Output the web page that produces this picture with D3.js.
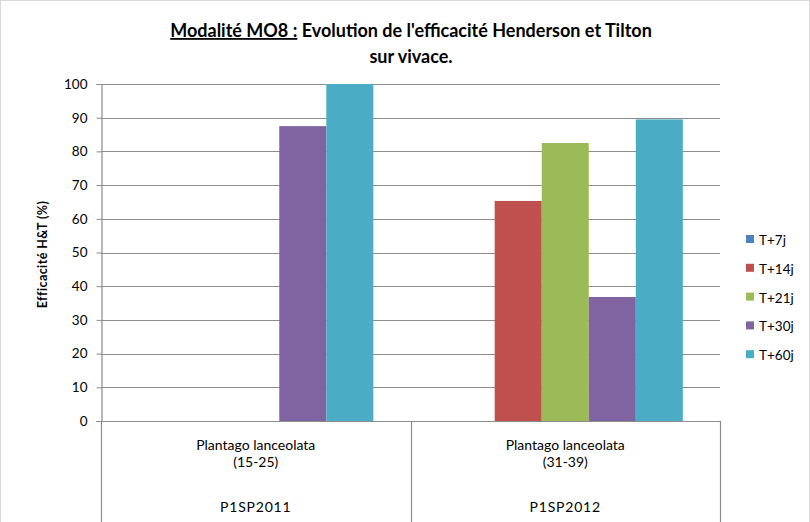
<!DOCTYPE html>
<html>
<head>
<meta charset="utf-8">
<script src="https://cdn.jsdelivr.net/npm/d3@7"></script>
<style>
  html, body { margin: 0; padding: 0; background: #fff; }
  svg { display: block; font-family: Lato, "Open Sans", sans-serif; }
</style>
</head>
<body>
<svg id="chart" width="810" height="522"></svg>
<script>
// Efficacy (Henderson & Tilton, %) per sampling date, for each trial
const categories = ["P1SP2011", "P1SP2012"];
const subLabels = [["Plantago lanceolata", "(15-25)"], ["Plantago lanceolata", "(31-39)"]];
const seriesNames = ["T+7j", "T+14j", "T+21j", "T+30j", "T+60j"];
const seriesColors = ["#4F81BD", "#C0504D", "#9BBB59", "#8064A2", "#4BACC6"];
const valuesT7 = [null, null];
const valuesT14 = [null, 65.3];
const valuesT21 = [null, 82.5];
const valuesT30 = [87.5, 36.8];
const valuesT60 = [100, 89.5];
const yTicks = [0, 10, 20, 30, 40, 50, 60, 70, 80, 90, 100];

const seriesValues = [valuesT7, valuesT14, valuesT21, valuesT30, valuesT60];

const svg = d3.select("#chart");
const W = 810, H = 522;
const plot = { left: 101, right: 720, top: 84, bottom: 421 };

// chart frame
svg.append("rect")
  .attr("x", 0.5).attr("y", 0.5)
  .attr("width", W - 1).attr("height", H + 20)
  .attr("fill", "#fff").attr("stroke", "#d9d9d9");

const y = d3.scaleLinear().domain([0, 100]).range([plot.bottom, plot.top]);
const x0 = d3.scaleBand().domain(categories).range([plot.left, plot.right]).padding(0);
const x1 = d3.scaleBand().domain(seriesNames).range([0, x0.bandwidth()])
  .paddingInner(0).paddingOuter(0.79);

// horizontal gridlines
svg.append("g")
  .selectAll("line")
  .data(yTicks.filter(d => d > 0))
  .join("line")
  .attr("x1", plot.left).attr("x2", plot.right)
  .attr("y1", d => Math.round(y(d)) + 0.5).attr("y2", d => Math.round(y(d)) + 0.5)
  .attr("stroke", "#8c8c8c").attr("stroke-width", 1.2);

// bars
const rows = [];
categories.forEach((c, i) => {
  seriesNames.forEach((s, j) => {
    const v = seriesValues[j][i];
    if (v != null) rows.push({ c, s, v, color: seriesColors[j] });
  });
});
svg.append("g")
  .selectAll("rect")
  .data(rows)
  .join("rect")
  .attr("x", d => x0(d.c) + x1(d.s))
  .attr("width", x1.bandwidth())
  .attr("y", d => y(d.v))
  .attr("height", d => y(0) - y(d.v))
  .attr("fill", d => d.color);

// y axis
const yAxis = d3.axisLeft(y).tickValues(yTicks).tickSize(5).tickPadding(9).tickFormat(d3.format("d"));
const gy = svg.append("g").attr("transform", `translate(${plot.left + 0.5},0)`).call(yAxis);
gy.select(".domain").attr("stroke", "#8c8c8c").attr("stroke-width", 1.2);
gy.selectAll(".tick line").attr("stroke", "#8c8c8c");
gy.selectAll(".tick text")
  .attr("font-family", "Lato, 'Open Sans', sans-serif")
  .attr("font-size", 13.5).attr("fill", "#000");

// x axis baseline and multi-level category separators
const gx = svg.append("g");
gx.append("line")
  .attr("x1", plot.left - 5).attr("x2", plot.right)
  .attr("y1", plot.bottom + 0.5).attr("y2", plot.bottom + 0.5)
  .attr("stroke", "#8c8c8c").attr("stroke-width", 1.2);
const seps = [plot.left, ...categories.map(c => x0(c) + x0.bandwidth())];
gx.selectAll("line.sep")
  .data(seps)
  .join("line")
  .attr("class", "sep")
  .attr("x1", d => Math.round(d) + 0.5).attr("x2", d => Math.round(d) + 0.5)
  .attr("y1", plot.bottom).attr("y2", H)
  .attr("stroke", "#8c8c8c").attr("stroke-width", 1.2);

// category labels
categories.forEach((c, i) => {
  const cx = x0(c) + x0.bandwidth() / 2;
  gx.append("text").attr("x", cx).attr("y", 450).attr("text-anchor", "middle")
    .attr("font-size", 14).text(subLabels[i][0]);
  gx.append("text").attr("x", cx).attr("y", 467).attr("text-anchor", "middle")
    .attr("font-size", 14).text(subLabels[i][1]);
  gx.append("text").attr("x", cx).attr("y", 512).attr("text-anchor", "middle")
    .attr("font-size", 14).attr("letter-spacing", 0.8).text(c);
});

// y axis title
svg.append("text")
  .attr("transform", `translate(47,${(plot.top + plot.bottom) / 2 + 2}) rotate(-90)`)
  .attr("text-anchor", "middle")
  .attr("font-size", 12.5).attr("font-weight", "bold")
  .attr("letter-spacing", 0.4)
  .text("Efficacité  H&T (%)");

// title
const title = svg.append("text")
  .attr("x", 411).attr("y", 37).attr("text-anchor", "middle")
  .attr("font-size", 18).attr("font-weight", "bold");
title.append("tspan").attr("text-decoration", "underline").text("Modalité MO8 :");
title.append("tspan").text(" Evolution de l'efficacité Henderson et Tilton");
svg.append("text")
  .attr("x", 411).attr("y", 63).attr("text-anchor", "middle")
  .attr("font-size", 18).attr("font-weight", "bold")
  .text("sur vivace.");

// legend
const legend = svg.append("g").attr("transform", "translate(746,240)");
const li = legend.selectAll("g").data(seriesNames).join("g")
  .attr("transform", (d, i) => `translate(0,${i * 28.8})`);
li.append("rect").attr("x", 0).attr("y", -5).attr("width", 8).attr("height", 8)
  .attr("fill", (d, i) => seriesColors[i]);
li.append("text").attr("x", 13).attr("y", 5).attr("font-size", 13.5).text(d => d);
</script>
</body>
</html>
